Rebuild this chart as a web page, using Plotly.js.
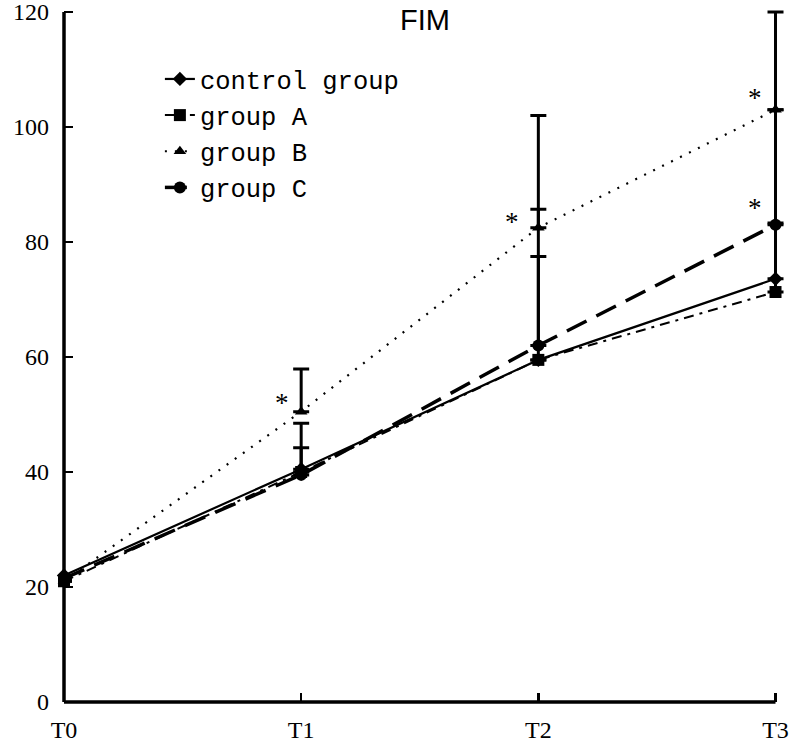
<!DOCTYPE html>
<html>
<head>
<meta charset="utf-8">
<script src="https://cdn.plot.ly/plotly-3.0.1.min.js"></script>
<style>html,body{margin:0;padding:0;background:#fff;}#chart{width:792px;height:752px;}</style>
</head>
<body>
<div id="chart"></div>
<script>
const timepoints = ['T0', 'T1', 'T2', 'T3'];
const seriesNames = ['control group', 'group A', 'group B', 'group C'];
const controlValues = [22, 40.5, 59.5, 73.6];
const groupAValues = [21, 40, 59.5, 71.3];
const groupBValues = [21, 50.5, 82.5, 103];
const groupCValues = [21.5, 39.5, 62, 83];
const controlErrUp = [0, 8, 0, 0];
const groupAErrUp = [0, 0, 26.2, 12];
const groupBErrUp = [0, 7.4, 19.5, 17];
const groupCErrUp = [0, 4.7, 15.5, 20];
const yTicks = [0, 20, 40, 60, 80, 100, 120];
const starPoints = [
  {x: 'T1', y: 52, shift: -19},
  {x: 'T2', y: 83.5, shift: -26},
  {x: 'T3', y: 105, shift: -21},
  {x: 'T3', y: 86, shift: -21}
];

const xRange = [0, 3.04];
const yRange = [0, 121.22];
const yMaxTick = 120;
const xLastIndex = timepoints.length - 1;

function errCfg(arr) {
  return {type: 'data', symmetric: false, array: arr, arrayminus: arr.map(() => 0),
          color: '#000', thickness: 3, width: 8, visible: true};
}

const traces = [
  {x: timepoints, y: controlValues, name: seriesNames[0], type: 'scatter', mode: 'lines+markers',
   line: {color: '#000', width: 2.2, dash: 'solid'},
   marker: {symbol: 'diamond', size: 11, color: '#000'},
   error_y: errCfg(controlErrUp), cliponaxis: false},
  {x: timepoints, y: groupAValues, name: seriesNames[1], type: 'scatter', mode: 'lines+markers',
   line: {color: '#000', width: 2, dash: '10px,6px,3px,6px'},
   marker: {symbol: 'square', size: 12, color: '#000'},
   error_y: errCfg(groupAErrUp), cliponaxis: false},
  {x: timepoints, y: groupBValues, name: seriesNames[2], type: 'scatter', mode: 'lines+markers',
   line: {color: '#000', width: 2.2, dash: '2px,8px'},
   marker: {symbol: 'triangle-up', size: 11, color: '#000'},
   error_y: errCfg(groupBErrUp), cliponaxis: false},
  {x: timepoints, y: groupCValues, name: seriesNames[3], type: 'scatter', mode: 'lines+markers',
   line: {color: '#000', width: 3.5, dash: '22px,11px'},
   marker: {symbol: 'circle', size: 12, color: '#000'},
   error_y: errCfg(groupCErrUp), cliponaxis: false}
];

const annotations = [{
  text: 'FIM', xref: 'paper', yref: 'paper', x: 0.5, y: 1.004, xanchor: 'center', yanchor: 'top',
  showarrow: false, font: {family: 'Liberation Sans, Arial, sans-serif', size: 29, color: '#000'}
}].concat(starPoints.map(p => ({
  text: '*', x: p.x, y: p.y, xref: 'x', yref: 'y', xshift: p.shift, showarrow: false,
  font: {family: 'Liberation Serif, serif', size: 27, color: '#000'}
})));

// axis lines from the origin to the last tick (paper refs so they are not clipped)
const xEnd = (xLastIndex - xRange[0]) / (xRange[1] - xRange[0]);
const yEnd = (yMaxTick - yRange[0]) / (yRange[1] - yRange[0]);
const axisShapes = [
  {type: 'line', xref: 'paper', yref: 'paper', x0: 0, x1: xEnd, y0: 0, y1: 0, line: {color: '#000', width: 3.5}, layer: 'above'},
  {type: 'line', xref: 'paper', yref: 'paper', x0: 0, x1: 0, y0: 0, y1: yEnd, line: {color: '#000', width: 3.5}, layer: 'above'}
];

const layout = {
  width: 792, height: 752,
  margin: {l: 64, r: 6.5, t: 5, b: 50},
  paper_bgcolor: '#fff', plot_bgcolor: '#fff',
  showlegend: true,
  legend: {x: 0.133, y: 0.927, xanchor: 'left', yanchor: 'top', bgcolor: 'rgba(0,0,0,0)',
           font: {family: 'Liberation Mono, monospace', size: 25.5, color: '#000'},
           tracegroupgap: 0},
  xaxis: {type: 'category', categoryorder: 'array', categoryarray: timepoints,
          range: xRange, showline: false,
          ticks: 'inside', ticklen: 9, tickwidth: 2.5, tickcolor: '#000',
          showgrid: false, zeroline: false, ticklabelstandoff: 11, ticklabeloverflow: 'allow',
          tickfont: {family: 'Liberation Serif, serif', size: 24, color: '#000'}},
  yaxis: {range: yRange, tickvals: yTicks, showline: false,
          ticks: 'inside', ticklen: 9, tickwidth: 2.5, tickcolor: '#000',
          showgrid: false, zeroline: false, ticklabelstandoff: 14, ticklabeloverflow: 'allow',
          tickfont: {family: 'Liberation Serif, serif', size: 24, color: '#000'}},
  shapes: axisShapes,
  annotations: annotations
};

Plotly.newPlot('chart', traces, layout, {displayModeBar: false, staticPlot: true});
</script>
</body>
</html>
